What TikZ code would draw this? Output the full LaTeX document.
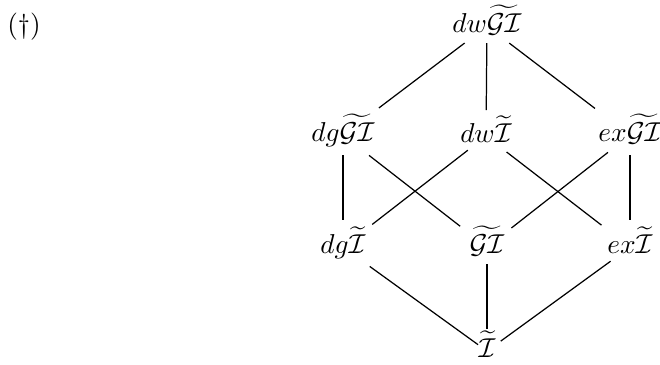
\documentclass[tikz,border=0pt]{standalone}
\begin{document}
\begin{tikzpicture}[x=0.366pt,y=-0.366pt,
  lat/.style={inner sep=0pt,anchor=base},
  edge/.style 2 args={line width=0.45pt,shorten <={#1*0.366pt},shorten >={#2*0.366pt}}]
\useasboundingbox (0,0) rectangle (660,364);
\node (dag) at (24,27) {(\dag)};
\node[lat] (top) at (487,32) {$dw\widetilde{\mathcal{G}\mathcal{I}}$};
\node[lat] (dgGI) at (343,141) {$dg\widetilde{\mathcal{G}\mathcal{I}}$};
\node[lat] (dwI) at (486,142) {$dw\widetilde{\mathcal{I}}$};
\node[lat] (exGI) at (630,141) {$ex\widetilde{\mathcal{G}\mathcal{I}}$};
\node[lat] (dgI) at (343,253) {$dg\widetilde{\mathcal{I}}$};
\node[lat] (GI) at (487,253) {$\widetilde{\mathcal{G}\mathcal{I}}$};
\node[lat] (exI) at (630,253) {$ex\widetilde{\mathcal{I}}$};
\node[lat] (bot) at (487,357) {$\widetilde{\mathcal{I}}$};
\draw[edge={28}{45}] (top.mid) -- (dgGI.mid);
\draw[edge={17}{26}] (top.mid) -- (dwI.mid);
\draw[edge={28}{44}] (top.mid) -- (exGI.mid);
\draw[edge={20}{27}] (dgGI.mid) -- (dgI.mid);
\draw[edge={33}{34}] (dgGI.mid) -- (GI.mid);
\draw[edge={23}{37}] (dwI.mid) -- (dgI.mid);
\draw[edge={26}{36}] (dwI.mid) -- (exI.mid);
\draw[edge={28}{31}] (exGI.mid) -- (GI.mid);
\draw[edge={20}{27}] (exGI.mid) -- (exI.mid);
\draw[edge={33}{11}] (dgI.mid) -- (bot.mid);
\draw[edge={17}{22}] (GI.mid) -- (bot.mid);
\draw[edge={24}{17}] (exI.mid) -- (bot.mid);
\end{tikzpicture}
\end{document}
